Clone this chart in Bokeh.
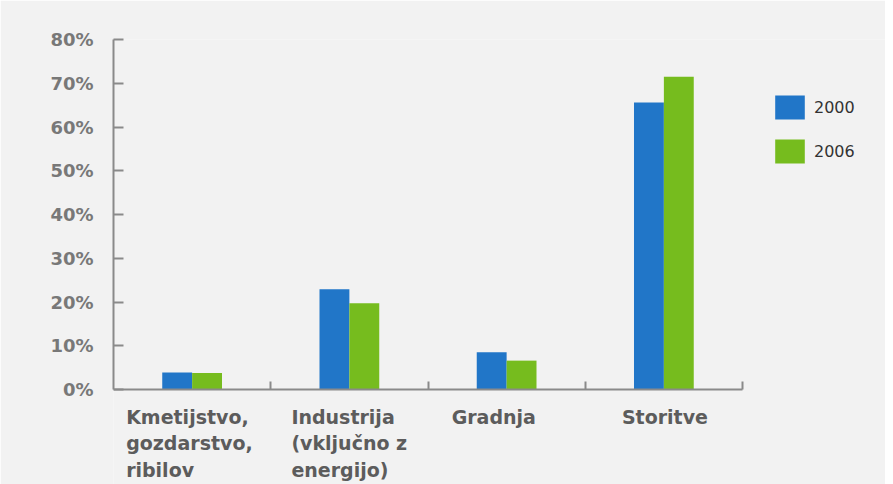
from bokeh.plotting import figure
from bokeh.models import (ColumnDataSource, Range1d, LinearAxis, FixedTicker,
                          PrintfTickFormatter, Legend, LegendItem)
from bokeh.core.properties import value
from bokeh.transform import dodge
from bokeh.embed import file_html
from bokeh.resources import INLINE

# ---- data ----
categories = ["Kmetijstvo", "Industrija", "Gradnja", "Storitve"]
category_labels = ["Kmetijstvo,\ngozdarstvo,\nribilov",
                   "Industrija\n(vključno z\nenergijo)",
                   "Gradnja",
                   "Storitve"]
share_2000 = [3.9, 22.9, 8.5, 65.6]
share_2006 = [3.8, 19.7, 6.6, 71.5]
y_ticks = [0, 10, 20, 30, 40, 50, 60, 70, 80]

# ---- layout / style ----
label_shift = [-66, -58, -55, -42]
BLUE = "#2176c8"
GREEN = "#76bc1e"
BG = "#f2f2f2"
AXIS = "#8a8a8a"
W, H = 885, 484
TOP, LEFT = 39, 113
PLOT_W = 629            # pixels covered by the categories
PLOT_H = 350            # pixels from 0% to 80%
BELOW = H - TOP - PLOT_H
n = len(categories)
y_min = -80 * BELOW / PLOT_H
x_max = n * (W - LEFT) / PLOT_W   # frame continues to the right edge to hold the legend

# category slots (centre of slot i is i + 0.5 on the x scale)
slot = [i + 0.5 for i in range(n)]

src = ColumnDataSource(dict(cat=categories, slot=slot, v2000=share_2000, v2006=share_2006))
lab_src = ColumnDataSource(dict(cat=categories, slot=slot, text=category_labels,
                                y=[0] * n, shift=label_shift))

p = figure(width=W, height=H, output_backend="svg", toolbar_location=None,
           x_range=Range1d(0, x_max), y_range=Range1d(y_min, 80),
           min_border_left=LEFT, min_border_right=0, min_border_top=TOP, min_border_bottom=0)
p.background_fill_color = BG
p.border_fill_color = BG
p.outline_line_color = None
p.grid.visible = False
p.xaxis.visible = False

r1 = p.vbar(x=dodge("slot", -0.095), top="v2000", bottom=0, width=0.19, source=src,
            fill_color=BLUE, line_color=None)
r2 = p.vbar(x=dodge("slot", 0.095), top="v2006", bottom=0, width=0.19, source=src,
            fill_color=GREEN, line_color=None)

# y axis
ya = p.yaxis[0]
ya.bounds = (0, 80)
ya.ticker = FixedTicker(ticks=y_ticks)
ya.formatter = PrintfTickFormatter(format="%d%%")
ya.minor_tick_line_color = None
ya.major_tick_in = 10
ya.major_tick_out = 0
ya.major_tick_line_color = AXIS
ya.major_tick_line_width = 2
ya.axis_line_color = AXIS
ya.axis_line_width = 2
ya.major_label_standoff = 20
ya.major_label_text_font = "DejaVu Sans"
ya.major_label_text_font_style = "bold"
ya.major_label_text_font_size = "18px"
ya.major_label_text_color = "#787878"

# x axis at 0%, ticks at the category boundaries
xa = LinearAxis(ticker=FixedTicker(ticks=list(range(1, n + 1))), fixed_location=0, bounds=(0, n))
xa.minor_tick_line_color = None
xa.major_tick_in = 8
xa.major_tick_out = 0
xa.major_tick_line_color = AXIS
xa.major_tick_line_width = 2
xa.axis_line_color = AXIS
xa.axis_line_width = 2
xa.major_label_text_font_size = "0px"
xa.major_label_text_alpha = 0
p.add_layout(xa, "below")

p.text(x="slot", y="y", text="text", source=lab_src, x_offset="shift", y_offset=16,
       text_align="left", text_baseline="top",
       text_font=value("DejaVu Sans"), text_font_style="bold", text_font_size="19px",
       text_color="#5c5c5c", text_line_height=1.22)

legend = Legend(items=[LegendItem(label="2000", renderers=[r1]),
                       LegendItem(label="2006", renderers=[r2])],
                location=(653, 313), orientation="vertical", margin=0, padding=5,
                glyph_width=37, glyph_height=30, spacing=14, label_standoff=6,
                background_fill_alpha=0, border_line_alpha=0,
                label_text_font="DejaVu Sans", label_text_font_size="16px",
                label_text_color="#333333")
p.add_layout(legend, "center")

open("out.html", "w").write(file_html(p, INLINE))
